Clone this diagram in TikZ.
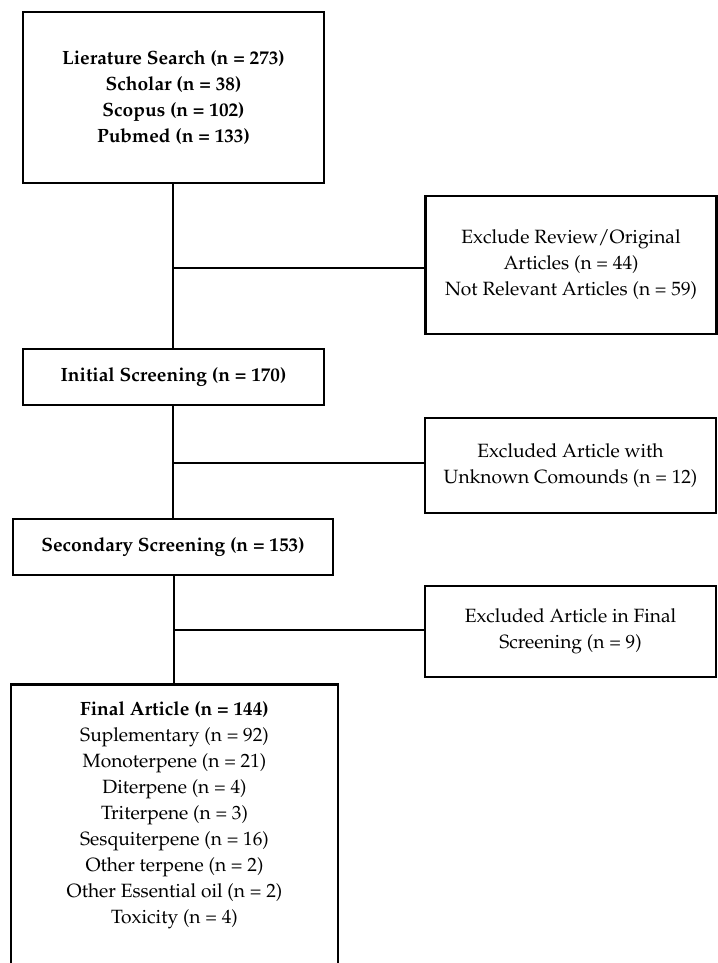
\documentclass[tikz,border=0pt]{standalone}
\usepackage[T1]{fontenc}
\usepackage{mathpazo}
\tikzset{
  stagebox/.style={draw, line width=2.6pt, align=center, inner sep=0pt,
    font=\fontsize{19.2}{26}\selectfont},
  excludebox/.style={stagebox},
  link/.style={line width=1.1pt}
}
\begin{document}
\begin{tikzpicture}[x=1pt,y=-1pt]
\useasboundingbox (0,0) rectangle (717,963);
\node[stagebox, minimum width=301pt, minimum height=171pt] (search) at (173.5,97.5)
  {\textbf{Lierature Search (n = 273)}\\\textbf{Scholar (n = 38)}\\\textbf{Scopus (n = 102)}\\\textbf{Pubmed (n = 133)}};
\node[excludebox, minimum width=291pt, minimum height=138pt] (exrev) at (571,265)
  {Exclude Review/Original\\Articles (n = 44)\\Not Relevant Articles (n = 59)};
\node[stagebox, minimum width=301pt, minimum height=56pt] (initial) at (173.5,377)
  {\textbf{Initial Screening (n = 170)}};
\node[excludebox, minimum width=291pt, minimum height=95pt] (exunk) at (570.5,465.5)
  {Excluded Article with\\Unknown Comounds (n = 12)};
\node[stagebox, minimum width=320pt, minimum height=56pt] (secondary) at (173,547)
  {\textbf{Secondary Screening (n = 153)}};
\node[excludebox, minimum width=291pt, minimum height=91pt] (exfin) at (570.5,631.5)
  {Excluded Article in Final\\Screening (n = 9)};
\node[stagebox, minimum width=327pt, inner ysep=17pt, anchor=north] (final) at (174.5,683)
  {\textbf{Final Article (n = 144)}\\Suplementary (n = 92)\\Monoterpene (n = 21)\\Diterpene (n = 4)\\Triterpene (n = 3)\\Sesquiterpene (n = 16)\\Other terpene (n = 2)\\Other Essential oil (n = 2)\\Toxicity (n = 4)\\[70pt]};
% trunk and side branches
\coordinate (b1) at (173,268);
\coordinate (b2) at (173,463);
\coordinate (b3) at (174,630);
\draw[link] (search.south -| b1) -- (initial.north -| b1);
\draw[link] (b1) -- (b1 -| exrev.west);
\draw[link] (initial.south -| b2) -- (secondary.north -| b2);
\draw[link] (b2) -- (b2 -| exunk.west);
\draw[link] (secondary.south -| b3) -- (final.north -| b3);
\draw[link] (b3) -- (b3 -| exfin.west);
\end{tikzpicture}
\end{document}
